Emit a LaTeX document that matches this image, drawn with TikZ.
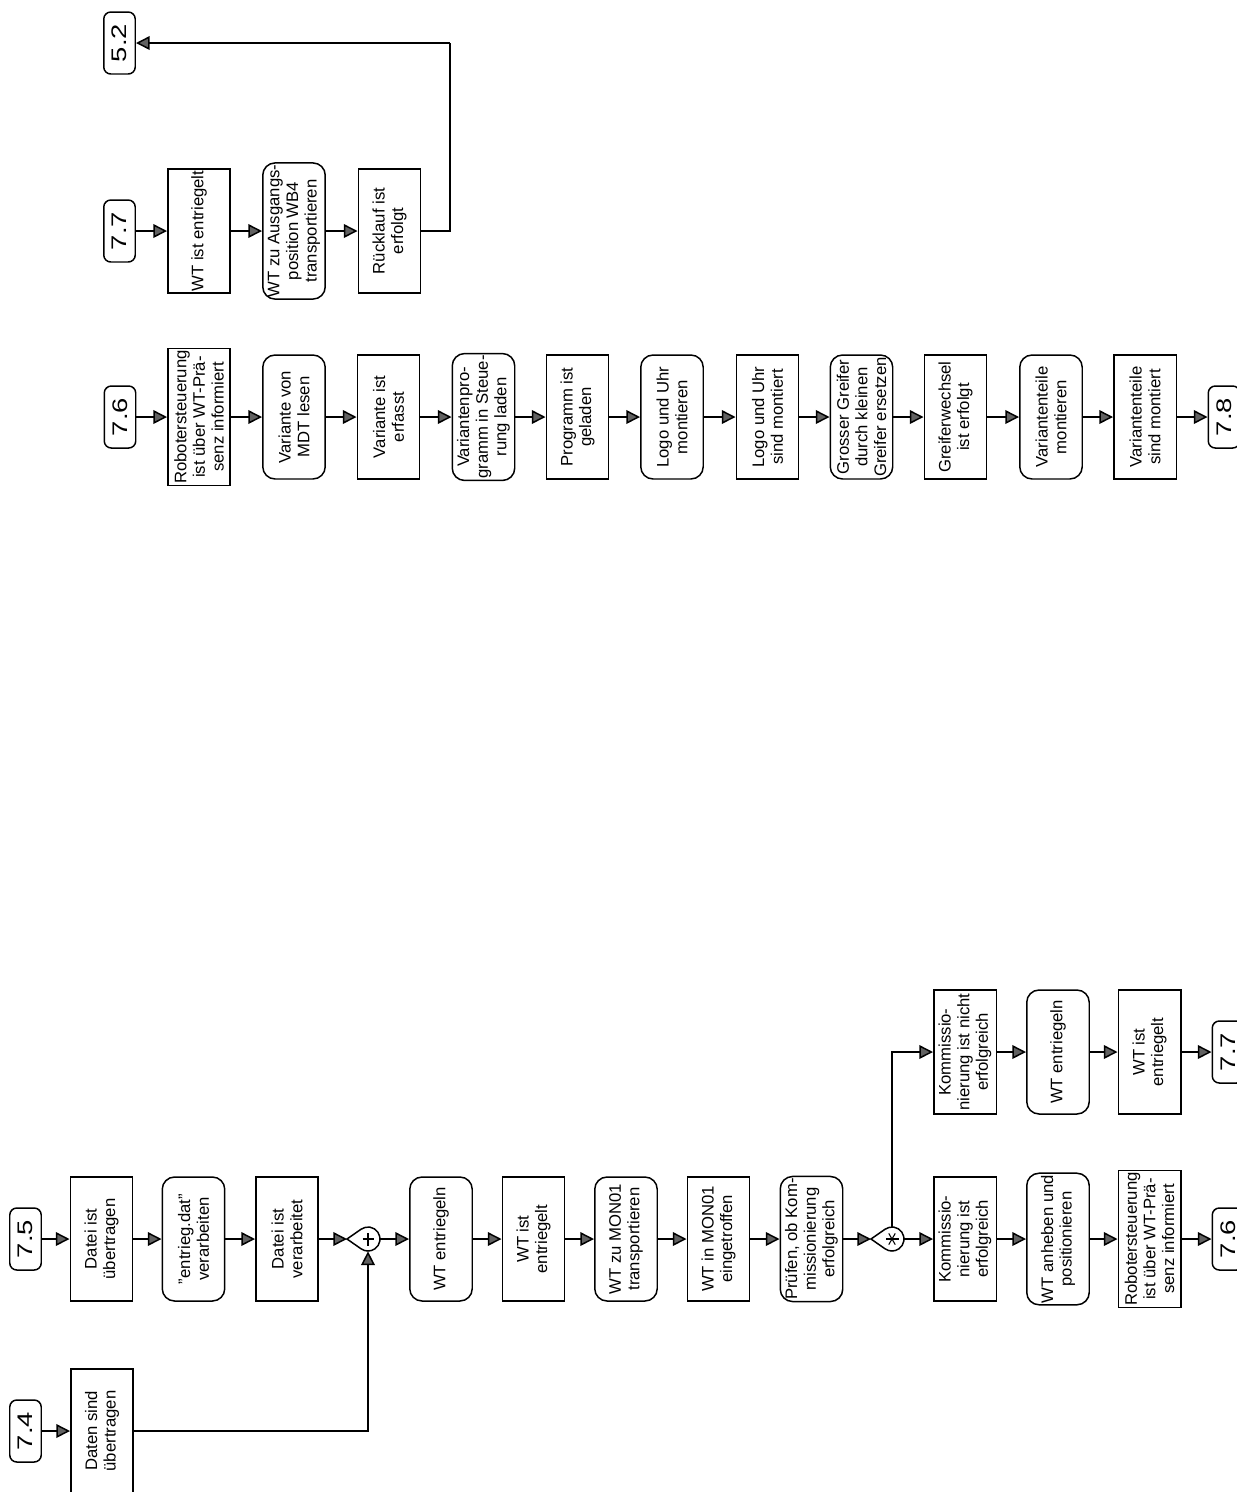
\documentclass[tikz,border=0pt]{standalone}
\usepackage{fontspec}
\setmainfont{Liberation Sans}
\newfontfamily\lblfont[FakeStretch=1.3]{Liberation Sans}
\usetikzlibrary{arrows.meta}
\tikzset{
  x=0.02cm, y=0.02cm,
  base/.style={draw, line width=0.85pt, rotate=90, align=center, inner sep=1pt,
    font=\fontsize{9.5}{10.6}\selectfont},
  ev/.style={base, minimum width=2.48cm, minimum height=1.25cm},
  fn/.style={base, minimum width=2.48cm, minimum height=1.25cm, rounded corners=7pt},
  lbl/.style={draw, line width=0.85pt, rotate=90, minimum width=1.24cm, minimum height=0.63cm,
    rounded corners=4pt, inner sep=0pt, font=\lblfont\fontsize{12}{13}\selectfont},
  jn/.style={circle, minimum size=0.48cm, inner sep=0pt},
  arr/.style={line width=0.85pt, -{Triangle[length=7.8pt,width=7.8pt,fill=black!62]}},
  ln/.style={line width=0.85pt}
}
\begin{document}
\begin{tikzpicture}
\clip (0,0) rectangle (1237,-1492);
\fill[white] (0,0) rectangle (1237,-1492);

% ---------- top row (7.7) ----------
\node[lbl] (l77) at (119.5,-231) {7.7};
\node[ev] (t1) at (199,-231) {WT ist entriegelt};
\node[fn] (t2) at (294,-231) {WT zu Ausgangs-\\position WB4\\transportieren};
\node[ev] (t3) at (389.5,-231) {Rücklauf ist\\erfolgt};
\node[lbl] (l52) at (119.5,-43) {5.2};
\coordinate (c52) at (450,-43);
\draw[arr] (l77) -- (t1);
\draw[arr] (t1) -- (t2);
\draw[arr] (t2) -- (t3);
\draw[ln] (t3) -| (c52);
\draw[arr] (c52) -- (l52);

% ---------- middle row (7.6) ----------
\node[lbl] (l76) at (120,-417) {7.6};
\node[ev] (m1) at (199,-417) {Robotersteuerung\\ist über WT-Prä-\\senz informiert};
\node[fn] (m2) at (294,-417) {Variante von\\MDT lesen};
\node[ev] (m3) at (388.5,-417) {Variante ist\\erfasst};
\node[fn] (m4) at (483.5,-417) {Variantenpro-\\gramm in Steue-\\rung laden};
\node[ev] (m5) at (577.5,-417) {Programm ist\\geladen};
\node[fn] (m6) at (672,-417) {Logo und Uhr\\montieren};
\node[ev] (m7) at (767.5,-417) {Logo und Uhr\\sind montiert};
\node[fn] (m8) at (861.5,-417) {Grosser Greifer\\durch kleinen\\Greifer ersetzen};
\node[ev] (m9) at (955.5,-417) {Greiferwechsel\\ist erfolgt};
\node[fn] (m10) at (1051,-417) {Variantenteile\\montieren};
\node[ev] (m11) at (1145,-417) {Variantenteile\\sind montiert};
\node[lbl] (l78) at (1224,-417) {7.8};
\draw[arr] (l76) -- (m1);
\draw[arr] (m1) -- (m2);
\draw[arr] (m2) -- (m3);
\draw[arr] (m3) -- (m4);
\draw[arr] (m4) -- (m5);
\draw[arr] (m5) -- (m6);
\draw[arr] (m6) -- (m7);
\draw[arr] (m7) -- (m8);
\draw[arr] (m8) -- (m9);
\draw[arr] (m9) -- (m10);
\draw[arr] (m10) -- (m11);
\draw[arr] (m11) -- (l78);

% ---------- bottom rows (7.4 / 7.5) ----------
\node[lbl] (l74) at (25.5,-1431) {7.4};
\node[ev] (n0) at (102,-1431) {Daten sind\\übertragen};
\node[lbl] (l75) at (25.5,-1239) {7.5};
\node[ev] (n1) at (101.5,-1239) {Datei ist\\übertragen};
\node[fn] (n2) at (193.5,-1239) {"entrieg.dat"\\verarbeiten};
\node[ev] (n3) at (287,-1239) {Datei ist\\verarbeitet};
% junction +
\node[jn] (j1) at (368,-1239) {};
\coordinate (j1w) at (347,-1239);
\draw[ln] (j1w) -- ([shift={(125:0.24cm)}]j1.center) arc[start angle=125, end angle=-125, radius=0.24cm] -- cycle;
\draw[ln] ([xshift=-0.11cm]j1.center) -- ([xshift=0.11cm]j1.center);
\draw[ln] ([yshift=-0.13cm]j1.center) -- ([yshift=0.13cm]j1.center);
\node[fn] (n4) at (441,-1239) {WT entriegeln};
\node[ev] (n5) at (533.5,-1239) {WT ist\\entriegelt};
\node[fn] (n6) at (626,-1239) {WT zu MON01\\transportieren};
\node[ev] (n7) at (718.5,-1239) {WT in MON01\\eingetroffen};
\node[fn] (n8) at (811.5,-1239) {Prüfen, ob Kom-\\missionierung\\erfolgreich};
% junction *
\node[jn] (j2) at (892,-1239) {};
\coordinate (j2w) at (871,-1239);
\draw[ln] (j2w) -- ([shift={(125:0.24cm)}]j2.center) arc[start angle=125, end angle=-125, radius=0.24cm] -- cycle;
\foreach \a in {0,60,120}{
  \draw[line width=0.6pt] ([shift={(\a:0.13cm)}]j2.center) -- ([shift={(\a+180:0.13cm)}]j2.center);
}
\node[ev] (n9) at (965,-1239) {Kommissio-\\nierung ist\\erfolgreich};
\node[fn] (n10) at (1058,-1239) {WT anheben und\\positionieren};
\node[ev] (n11) at (1149.5,-1239) {Robotersteuerung\\ist über WT-Prä-\\senz informiert};
\node[lbl] (l76b) at (1228,-1239) {7.6};
\node[ev] (n12) at (965,-1052) {Kommissio-\\nierung ist nicht\\erfolgreich};
\node[fn] (n13) at (1058,-1052) {WT entriegeln};
\node[ev] (n14) at (1149.5,-1052) {WT ist\\entriegelt};
\node[lbl] (l77b) at (1228,-1052) {7.7};

\draw[arr] (l74) -- (n0);
\draw[arr] (n0) -| (j1);
\draw[arr] (l75) -- (n1);
\draw[arr] (n1) -- (n2);
\draw[arr] (n2) -- (n3);
\draw[arr] (n3) -- (j1w);
\draw[arr] (j1) -- (n4);
\draw[arr] (n4) -- (n5);
\draw[arr] (n5) -- (n6);
\draw[arr] (n6) -- (n7);
\draw[arr] (n7) -- (n8);
\draw[arr] (n8) -- (j2w);
\draw[arr] (j2) -- (n9);
\draw[arr] (j2) |- (n12);
\draw[arr] (n9) -- (n10);
\draw[arr] (n10) -- (n11);
\draw[arr] (n11) -- (l76b);
\draw[arr] (n12) -- (n13);
\draw[arr] (n13) -- (n14);
\draw[arr] (n14) -- (l77b);
\end{tikzpicture}
\end{document}
